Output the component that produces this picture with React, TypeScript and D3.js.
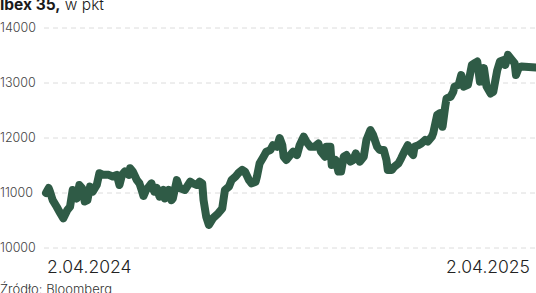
import React from "react";
import * as d3 from "d3";

const startDate = new Date(2024, 3, 2);
const endDate = new Date(2025, 3, 4);
const dayOffsets = [
  0, 2, 3, 5, 8, 10, 13, 16, 18, 20, 23, 25, 27, 29, 31, 33, 35, 38, 40, 43, 47, 50, 53, 55, 57, 59, 62, 63, 65, 68,
  70, 72, 73, 75, 77, 79, 81, 83, 85, 88, 89, 92, 94, 95, 98, 100, 104, 108, 110, 113, 115, 117, 118, 120, 122, 125,
  129, 132, 134, 137, 139, 142, 144, 147, 149, 152, 154, 157, 158, 160, 163, 165, 168, 170, 173, 175, 177, 178, 180,
  183, 185, 188, 190, 193, 195, 198, 201, 204, 206, 209, 210, 213, 214, 215, 217, 219, 221, 223, 225, 228, 230, 232,
  235, 238, 240, 243, 245, 248, 250, 253, 255, 256, 259, 261, 264, 266, 269, 271, 273, 275, 276, 279, 281, 284, 286,
  289, 290, 293, 295, 297, 299, 300, 303, 305, 306, 309, 311, 313, 316, 319, 321, 323, 325, 327, 328, 330, 333, 335,
  338, 340, 343, 344, 346, 349, 351, 352, 354, 356, 367,
];
const values = [
  11000, 11090, 11025, 10870, 10750, 10660, 10540, 10690, 10750, 11055, 10900, 11145, 11090, 10845, 10870, 11115,
  11025, 11145, 11360, 11330, 11330, 11300, 11330, 11145, 11330, 11390, 11330, 11450, 11390, 11235, 11175, 11025,
  10945, 11055, 11115, 11175, 11025, 11090, 10935, 11055, 10900, 11055, 10870, 10900, 11235, 11090, 11055, 11205,
  11175, 11145, 11205, 11175, 10870, 10570, 10420, 10540, 10630, 10720, 11055, 11115, 11235, 11300, 11360, 11420,
  11390, 11235, 11175, 11205, 11300, 11540, 11660, 11750, 11780, 11870, 11840, 12000, 11870, 11660, 11600, 11690,
  11750, 11690, 11870, 12025, 11935, 11840, 11840, 11900, 11750, 11660, 11840, 11840, 11510, 11540, 11600, 11390,
  11390, 11660, 11690, 11570, 11600, 11720, 11570, 11660, 11965, 12145, 12055, 11840, 11780, 11780, 11600, 11420,
  11420, 11480, 11540, 11630, 11780, 11870, 11750, 11690, 11840, 11870, 11900, 11965, 11935, 12025, 12085, 12420,
  12450, 12205, 12570, 12720, 12750, 12840, 12935, 12965, 13145, 12935, 12965, 13330, 13360, 13390, 13025, 13145,
  13270, 12935, 12810, 12840, 13235, 13390, 13420, 13330, 13510, 13420, 13360, 13145, 13270, 13300, 13280,
];
const yTicks = [10000, 11000, 12000, 13000, 14000];
const xLabels = ["2.04.2024", "2.04.2025"];
const titleBold = "Ibex 35,";
const titleLight = " w pkt";
const source = "Źródło: Bloomberg";

const W = 536;
const H = 293;
const FONT = "Inter, 'Noto Sans', sans-serif";

export default function App() {
  const x = d3.scaleTime().domain([startDate, endDate]).range([46, 536]);
  const y = d3.scaleLinear().domain([10000, 14000]).range([248, 28]);
  const pts = dayOffsets.map((d, i) => ({ date: d3.timeDay.offset(startDate, d), v: values[i] }));
  const line = d3
    .line<{ date: Date; v: number }>()
    .x((d) => x(d.date))
    .y((d) => y(d.v))
    .curve(d3.curveLinear);

  return (
    <svg
      width={W}
      height={H}
      style={{ position: "absolute", left: 0, top: 0, background: "#fff" }}
      fontFamily={FONT}
    >
      <text x={0} y={10} fontSize={15.5} fill="#1a1a1a">
        <tspan fontWeight={700}>{titleBold}</tspan>
        <tspan fontWeight={300}>{titleLight}</tspan>
      </text>
      {yTicks.map((t) => (
        <g key={t}>
          <line x1={44} x2={W} y1={y(t)} y2={y(t)} stroke="#dcdcdc" strokeWidth={1} strokeDasharray="5 4" />
          <text x={0} y={y(t)} dy="0.35em" fontSize={12.5} fontWeight={300} fill="#444">
            {t}
          </text>
        </g>
      ))}
      <path
        d={line(pts) || ""}
        fill="none"
        stroke="#2f5b46"
        strokeWidth={8}
        strokeLinejoin="round"
        strokeLinecap="round"
      />
      <text x={47} y={273} fontSize={17.5} fontWeight={300} fill="#222">
        {xLabels[0]}
      </text>
      <text x={530} y={273} fontSize={17.5} fontWeight={300} fill="#222" textAnchor="end">
        {xLabels[1]}
      </text>
      <text x={0} y={294} fontSize={13} fontWeight={300} fill="#333">
        {source}
      </text>
    </svg>
  );
}
